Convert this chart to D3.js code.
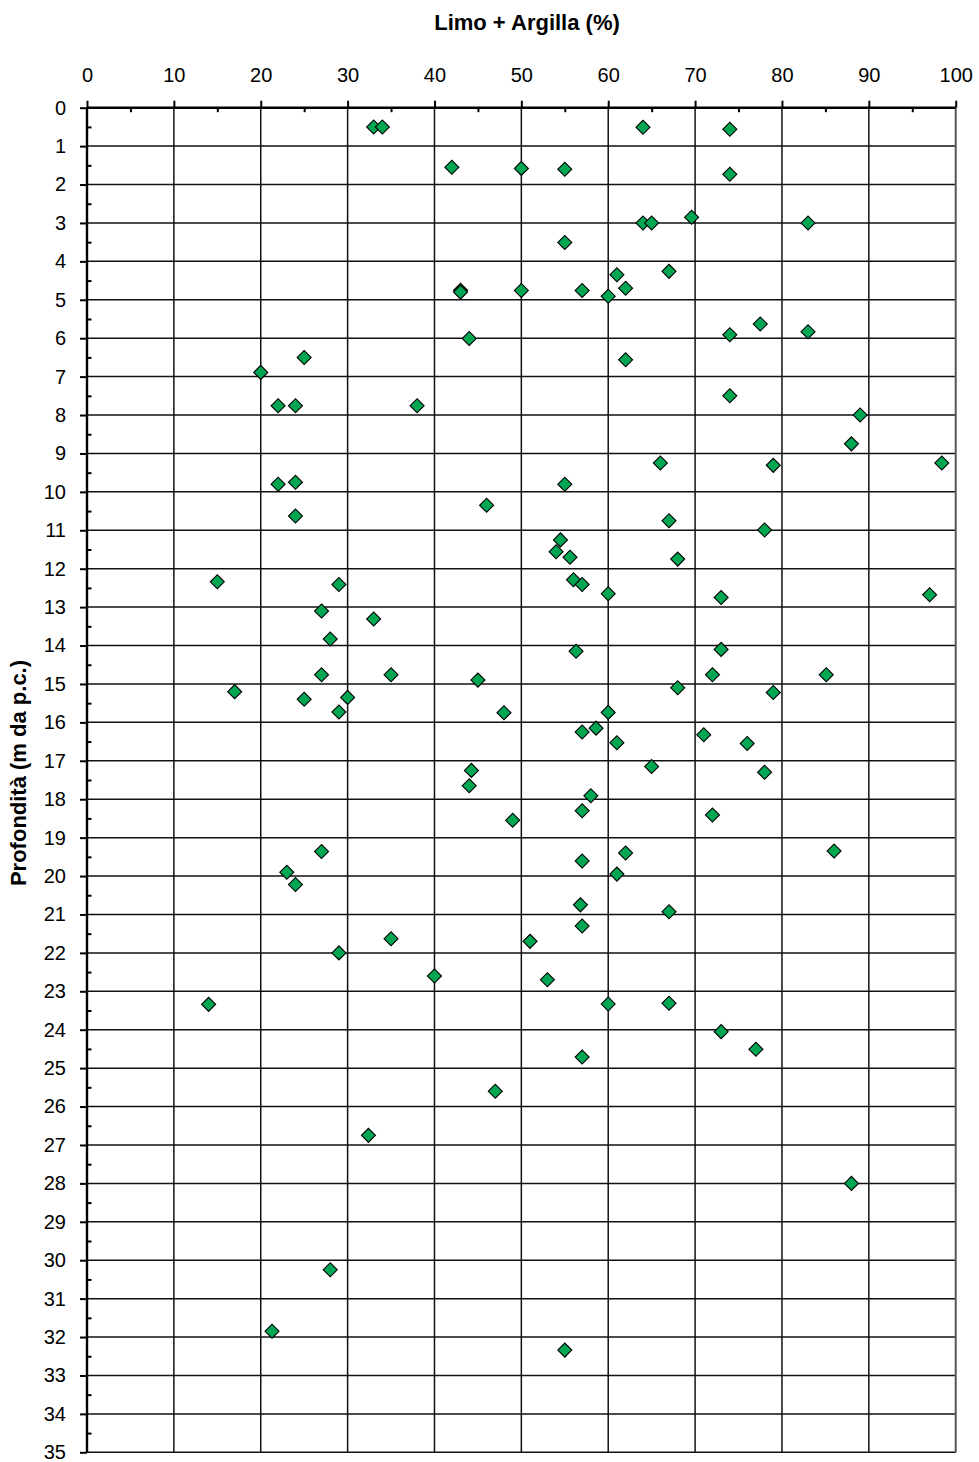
<!DOCTYPE html>
<html>
<head>
<meta charset="utf-8">
<script src="https://cdn.jsdelivr.net/npm/d3@7"></script>
<style>
  html, body { margin: 0; padding: 0; background: #fff; }
  svg { display: block; font-family: "Liberation Sans", Arial, sans-serif; }
</style>
</head>
<body>
<svg id="chart" width="979" height="1462"></svg>
<script>
// Limo + Argilla (%) per campione e relativa profondità (m da p.c.)
const limoArgilla = [
  33, 34, 64, 74,
  42, 50, 55, 74,
  64, 65, 69.6, 83, 55,
  61, 67, 62, 57, 60, 50, 43, 43,
  74, 77.5, 83, 44, 62, 25, 20,
  74, 22, 24, 38, 89, 88,
  66, 79, 98.4, 22, 24, 55,
  24, 46, 67, 78,
  54.5, 54, 55.6, 68,
  56, 57, 60, 73, 97, 15, 29,
  27, 33, 28, 56.3, 73,
  27, 35, 45, 72, 85.1, 68, 79, 17, 25, 30,
  29, 48, 60, 57, 58.6, 61, 71, 76,
  65, 78, 44.25, 44, 58, 57, 72, 49,
  62, 86, 57, 27, 23, 24, 61,
  56.8, 67, 57, 51, 35, 29, 40, 53,
  14, 60, 67, 73, 77, 57,
  88, 55, 47, 32.4, 28, 21.3
];
const profondita = [
  0.50, 0.50, 0.51, 0.56,
  1.55, 1.58, 1.60, 1.73,
  3.00, 3.00, 2.85, 3.00, 3.51,
  4.35, 4.26, 4.70, 4.76, 4.91, 4.76, 4.75, 4.80,
  5.91, 5.63, 5.83, 6.01, 6.56, 6.50, 6.89,
  7.50, 7.76, 7.76, 7.76, 8.00, 8.75,
  9.25, 9.31, 9.25, 9.80, 9.75, 9.80,
  10.63, 10.35, 10.75, 10.99,
  11.25, 11.56, 11.70, 11.75,
  12.29, 12.41, 12.65, 12.75, 12.68, 12.34, 12.41,
  13.10, 13.31, 13.83, 14.15, 14.10,
  14.76, 14.76, 14.90, 14.76, 14.76, 15.10, 15.22, 15.20, 15.40, 15.35,
  15.73, 15.75, 15.74, 16.25, 16.15, 16.53, 16.32, 16.55,
  17.15, 17.30, 17.25, 17.65, 17.91, 18.30, 18.41, 18.55,
  19.40, 19.35, 19.61, 19.36, 19.90, 20.22, 19.95,
  20.75, 20.93, 21.30, 21.70, 21.63, 22.00, 22.60, 22.70,
  23.34, 23.33, 23.31, 24.05, 24.51, 24.71,
  28.00, 32.34, 25.60, 26.75, 30.25, 31.85
];

const xTicks = [0, 10, 20, 30, 40, 50, 60, 70, 80, 90, 100];
const xMinorTicks = [5, 15, 25, 35, 45, 55, 65, 75, 85, 95];
const yTicks = d3.range(0, 36, 1);
const yMinorTicks = d3.range(0.5, 35, 1);

const xTitle = "Limo + Argilla (%)";
const yTitle = "Profondità (m da p.c.)";

const svg = d3.select("#chart");
const margin = { top: 107.7, right: 23.3, bottom: 9.7, left: 87 };
const W = +svg.attr("width"), H = +svg.attr("height");
const iw = W - margin.left - margin.right;
const ih = H - margin.top - margin.bottom;

const x = d3.scaleLinear().domain([0, 100]).range([0, iw]);
const y = d3.scaleLinear().domain([0, 35]).range([0, ih]);

const g = svg.append("g").attr("transform", `translate(${margin.left},${margin.top})`);

// grid
const grid = g.append("g").attr("class", "grid");
grid.selectAll("line.v").data(xTicks.slice(1, -1)).join("line")
  .attr("x1", d => x(d)).attr("x2", d => x(d))
  .attr("y1", 0).attr("y2", ih)
  .attr("stroke", "#111").attr("stroke-width", 1.5);
grid.selectAll("line.h").data(yTicks.slice(1)).join("line")
  .attr("x1", 0).attr("x2", iw)
  .attr("y1", d => y(d)).attr("y2", d => y(d))
  .attr("stroke", "#111").attr("stroke-width", 1.5);
// right border
grid.append("line")
  .attr("x1", x(100)).attr("x2", x(100)).attr("y1", 0).attr("y2", ih)
  .attr("stroke", "#555").attr("stroke-width", 2);

// x axis (top): major ticks outside, minor ticks inside
const xAxis = g.append("g").call(
  d3.axisTop(x).tickValues(xTicks).tickSize(7).tickPadding(18.5).tickFormat(d3.format("d"))
);
xAxis.select(".domain").remove();
const xMinor = g.append("g").call(
  d3.axisTop(x).tickValues(xMinorTicks).tickSize(-4.5).tickFormat("")
);
xMinor.select(".domain").remove();

// y axis (left)
const yAxis = g.append("g").call(
  d3.axisLeft(y).tickValues(yTicks).tickSize(7).tickPadding(14).tickFormat(d3.format("d"))
);
yAxis.select(".domain").remove();
const yMinor = g.append("g").call(
  d3.axisLeft(y).tickValues(yMinorTicks).tickSize(-4.5).tickFormat("")
);
yMinor.select(".domain").remove();

[xAxis, xMinor, yAxis, yMinor].forEach(a => {
  a.selectAll(".tick line").attr("stroke", "#000").attr("stroke-width", 2);
  a.selectAll(".tick text").attr("fill", "#000").style("font-size", "20px");
});

// axis lines
g.append("line").attr("x1", 0).attr("x2", iw).attr("y1", 0).attr("y2", 0)
  .attr("stroke", "#000").attr("stroke-width", 2.4);
g.append("line").attr("x1", 0).attr("x2", 0).attr("y1", 0).attr("y2", ih)
  .attr("stroke", "#000").attr("stroke-width", 2.4);

// points
const data = limoArgilla.map((v, i) => ({ v, d: profondita[i] }));
const diamond = d3.symbol().type(d3.symbolSquare).size(98);
g.append("g").selectAll("path").data(data).join("path")
  .attr("d", diamond)
  .attr("transform", d => `translate(${x(d.v)},${y(d.d)}) rotate(45)`)
  .attr("fill", "#00a651").attr("stroke", "#000").attr("stroke-width", 1.1);

// titles
svg.append("text")
  .attr("x", 527).attr("y", 30)
  .attr("text-anchor", "middle")
  .style("font-size", "22px").style("font-weight", "bold")
  .text(xTitle);
svg.append("text")
  .attr("transform", "translate(26,773) rotate(-90)")
  .attr("text-anchor", "middle")
  .style("font-size", "22px").style("font-weight", "bold")
  .text(yTitle);
</script>
</body>
</html>
